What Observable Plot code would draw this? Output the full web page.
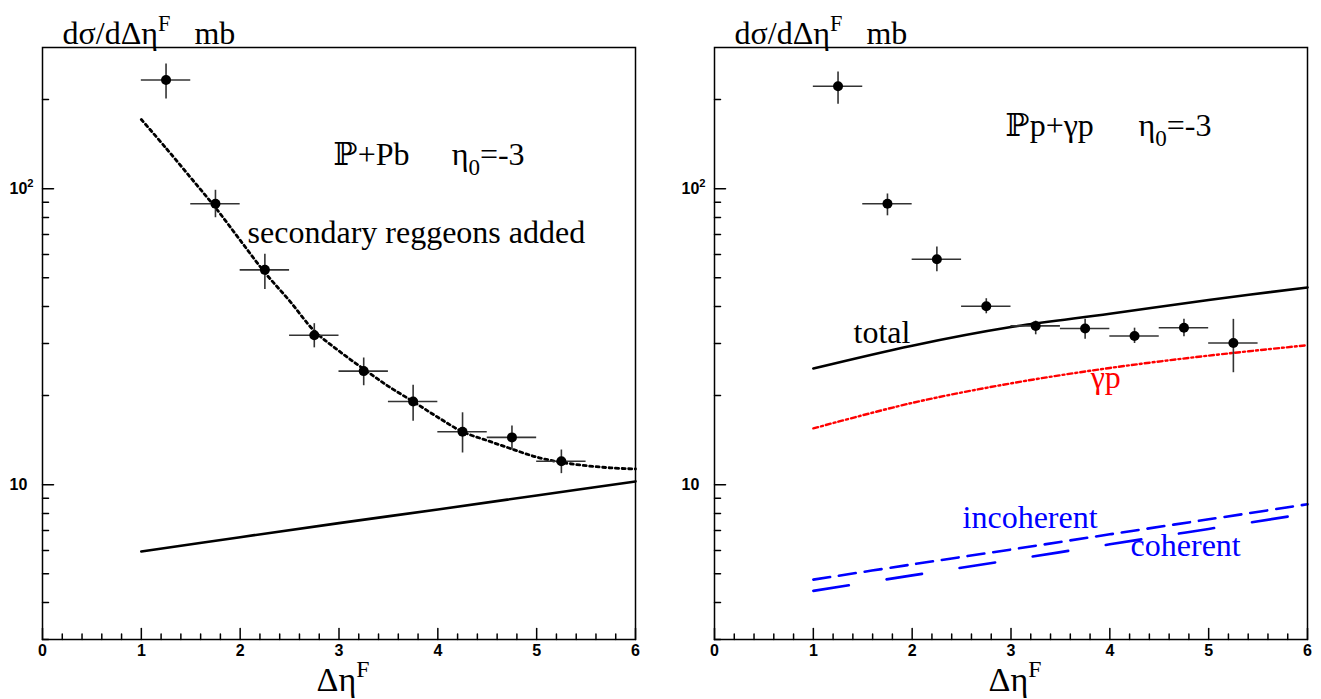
<!DOCTYPE html>
<html><head><meta charset="utf-8">
<script src="https://cdn.jsdelivr.net/npm/d3@7"></script>
<script src="https://cdn.jsdelivr.net/npm/@observablehq/plot@0.6"></script>
<style>
body{margin:0;background:#fff;}
#wrap{display:flex;width:1321px;height:699px;overflow:hidden;}
svg{overflow:visible;}
svg text{white-space:pre;}
</style></head><body><div id="wrap"></div>
<script>
// ---------- data ----------
const binCenters = [1.25, 1.75, 2.25, 2.75, 3.25, 3.75, 4.25, 4.75, 5.25];
const binHalfWidth = 0.25;

// left panel: IP + Pb
const pbValues = [233, 89, 53.2, 32.0, 24.2, 19.1, 15.1, 14.45, 12.0];
const pbErrLow = [201, 79.8, 45.7, 29.0, 21.6, 16.4, 12.8, 13.1, 10.9];
const pbErrHigh = [264, 98.8, 60.1, 35.0, 26.8, 21.7, 17.5, 15.8, 13.1];
const pbFitX = [1, 1.25, 1.5, 1.75, 2, 2.25, 2.5, 2.75, 3, 3.25, 3.5, 3.75, 4, 4.25, 4.5, 4.75, 5, 5.25, 5.5, 5.75, 6];
const pbFitY = [171.4, 137.1, 108.9, 86.3, 67.0, 52.1, 41.8, 33.1, 28.3, 24.6, 21.5, 19.1, 16.9, 15.1, 14.1, 13.2, 12.4, 11.9, 11.6, 11.4, 11.3];
const pbPomX = [1, 2, 3, 4, 5, 6];
const pbPomY = [5.95, 6.65, 7.42, 8.25, 9.2, 10.26];

// right panel: IP p + gamma p
const ppValues = [222, 89, 57.8, 40.1, 34.4, 33.7, 31.8, 33.9, 30.1];
const ppErrLow = [193, 81, 52.4, 37.8, 32.1, 31.0, 30.0, 31.6, 23.9];
const ppErrHigh = [248, 96, 63.6, 42.5, 35.7, 36.2, 33.8, 36.2, 36.2];
const curveX = [1, 2, 3, 4, 5, 6];
const totalY = [24.7, 29.5, 34.1, 37.8, 42.1, 46.4];
const gammaPY = [15.5, 18.9, 22.0, 24.8, 27.3, 29.6];
const incoherentY = [4.78, 5.38, 6.04, 6.80, 7.64, 8.59];
const coherentY = [4.38, 4.94, 5.57, 6.29, 7.09, 7.99];

// axis ticks
const xMajor = [0, 1, 2, 3, 4, 5, 6];
const xMinor = d3.range(1, 30).map(i => i / 5).filter(v => Math.abs(v - Math.round(v)) > 1e-6);
const yMajor = [10, 100];
const yMajorLabels = ["10", "10^2"];
const yMinor = [3, 4, 5, 6, 7, 8, 9, 20, 30, 40, 50, 60, 70, 80, 90, 200];

const yTitle = "dσ/dΔη^F   mb";
const xTitle = "Δη^F";

// ---------- helpers ----------
const SERIF = "'Liberation Serif', 'Times New Roman', 'DejaVu Serif', serif";
const SANS = "'Liberation Sans', Arial, sans-serif";
const FS = 32;
const TICKFS = 16;
const tickShape = {draw(ctx, l) { ctx.moveTo(0, 0); ctx.lineTo(0, -l); }};

function points(vals, lo, hi) {
  return binCenters.map((x, i) => ({x, y: vals[i], lo: lo[i], hi: hi[i]}));
}
function series(xs, ys) { return xs.map((x, i) => ({x, y: ys[i]})); }

function frameMarks() {
  return [
    Plot.vector(xMajor, {x: d => d, frameAnchor: "bottom", length: 11, anchor: "start", shape: tickShape, stroke: "black", strokeWidth: 1.5}),
    Plot.vector(xMinor, {x: d => d, frameAnchor: "bottom", length: 5.5, anchor: "start", shape: tickShape, stroke: "black", strokeWidth: 1.5}),
    Plot.vector(yMajor, {y: d => d, frameAnchor: "left", rotate: 90, length: 11, anchor: "start", shape: tickShape, stroke: "black", strokeWidth: 1.5}),
    Plot.vector(yMinor, {y: d => d, frameAnchor: "left", rotate: 90, length: 6, anchor: "start", shape: tickShape, stroke: "black", strokeWidth: 1.5}),
    Plot.text(xMajor, {x: d => d, text: d => String(d), frameAnchor: "bottom", dy: 5, lineAnchor: "top", fontFamily: SANS, fontSize: "16px", fontWeight: "bold", fill: "black"}),
    Plot.text(yMajor, {y: d => d, text: (d, i) => yMajorLabels[i], frameAnchor: "left", dx: -33, textAnchor: "start", lineAnchor: "middle", fontFamily: SANS, fontSize: "16px", fontWeight: "bold", fill: "black"}),
    Plot.text([yTitle], {text: d => d, frameAnchor: "top-left", dx: 20, dy: -4, textAnchor: "start", lineAnchor: "bottom", fontFamily: SERIF, fontSize: FS, fill: "black"}),
    Plot.text([xTitle], {text: d => d, frameAnchor: "bottom", dx: 4, dy: 51, textAnchor: "middle", lineAnchor: "bottom", fontFamily: SERIF, fontSize: 34, fill: "black"}),
    Plot.frame({stroke: "black", strokeWidth: 1.5})
  ];
}
function dataMarks(pts) {
  return [
    Plot.ruleX(pts, {x: "x", y1: "lo", y2: "hi", stroke: "#333", strokeWidth: 1.6}),
    Plot.ruleY(pts, {y: "y", x1: d => d.x - binHalfWidth, x2: d => d.x + binHalfWidth, stroke: "#333", strokeWidth: 1.6}),
    Plot.dot(pts, {x: "x", y: "y", r: 5, fill: "black"})
  ];
}
function label(t, x, y, fill = "black") {
  return Plot.text([t], {x: () => x, y: () => y, text: d => d, textAnchor: "start", lineAnchor: "bottom", fontFamily: SERIF, fontSize: FS, fill});
}

function fontSizeOf(el) {
  for (let n = el; n && n.getAttribute; n = n.parentNode) {
    const f = n.getAttribute("font-size");
    if (f) return parseFloat(f);
  }
  return 16;
}

// make sure tick labels get their intended font
function fixTickLabels(svg) {
  const tickTexts = new Set([...xMajor.map(String), ...yMajorLabels]);
  svg.querySelectorAll("text").forEach(el => {
    if (tickTexts.has(el.textContent)) {
      el.setAttribute("font-size", TICKFS);
      el.setAttribute("font-family", SANS);
      el.setAttribute("font-weight", "bold");
    }
  });
  return svg;
}

function richify(svg) {
  svg.querySelectorAll("text").forEach(el => {
    const s = el.textContent;
    if (!/[\^_]/.test(s)) return;
    const fs = fontSizeOf(el);
    const parts = [];
    let buf = "";
    for (let i = 0; i < s.length; i++) {
      const c = s[i];
      if ((c === "^" || c === "_") && i + 1 < s.length) {
        if (buf) parts.push({t: buf, k: "n"});
        buf = "";
        parts.push({t: s[i + 1], k: c === "^" ? "sup" : "sub"});
        i++;
      } else buf += c;
    }
    if (buf) parts.push({t: buf, k: "n"});
    el.textContent = "";
    let cur = 0;
    for (const p of parts) {
      const ts = document.createElementNS("http://www.w3.org/2000/svg", "tspan");
      const target = p.k === "sup" ? -0.4 * fs : p.k === "sub" ? 0.31 * fs : 0;
      ts.setAttribute("dy", target - cur);
      cur = target;
      if (p.k !== "n") ts.setAttribute("font-size", (p.k === "sup" ? 0.7 : 0.72) * fs);
      ts.textContent = p.t;
      el.appendChild(ts);
    }
  });
  return svg;
}

const common = {
  height: 699,
  x: {type: "linear", domain: [0, 6], axis: null},
  y: {type: "log", domain: [3, 300], axis: null},
  style: {background: "white", color: "black", overflow: "visible"}
};

// ---------- left panel ----------
const left = Plot.plot({
  ...common,
  width: 660,
  marginLeft: 42, marginRight: 25, marginTop: 47, marginBottom: 60,
  marks: [
    Plot.line(series(pbPomX, pbPomY), {x: "x", y: "y", stroke: "black", strokeWidth: 2.6, curve: "catmull-rom"}),
    Plot.line(series(pbFitX, pbFitY), {x: "x", y: "y", stroke: "black", strokeWidth: 2.8, strokeDasharray: "3,3.5", curve: "catmull-rom"}),
    ...dataMarks(points(pbValues, pbErrLow, pbErrHigh)),
    label("ℙ+Pb", 2.945, 120.2),
    label("η_0=-3", 4.14, 120.2),
    label("secondary reggeons added", 2.075, 65.6),
    ...frameMarks()
  ]
});

// ---------- right panel ----------
const right = Plot.plot({
  ...common,
  width: 661,
  marginLeft: 54, marginRight: 14, marginTop: 47, marginBottom: 60,
  marks: [
    Plot.line(series(curveX, totalY), {x: "x", y: "y", stroke: "black", strokeWidth: 2.6, curve: "catmull-rom"}),
    Plot.line(series(curveX, gammaPY), {x: "x", y: "y", stroke: "#ff0000", strokeWidth: 2.4, strokeDasharray: "5,3,2,3", curve: "catmull-rom"}),
    Plot.line(series(curveX, incoherentY), {x: "x", y: "y", stroke: "#0000ff", strokeWidth: 2.6, strokeDasharray: "17,9", curve: "catmull-rom"}),
    Plot.line(series(curveX, coherentY), {x: "x", y: "y", stroke: "#0000ff", strokeWidth: 2.6, strokeDasharray: "36,38", curve: "catmull-rom"}),
    ...dataMarks(points(ppValues, ppErrLow, ppErrHigh)),
    label("ℙp+γp", 2.945, 150.6),
    label("η_0=-3", 4.29, 150.6),
    label("total", 1.407, 30.1),
    label("γp", 3.806, 21.25, "#ff0000"),
    label("incoherent", 2.51, 7.16, "#0000ff"),
    label("coherent", 4.21, 5.76, "#0000ff"),
    ...frameMarks()
  ]
});

const wrap = document.getElementById("wrap");
wrap.appendChild(richify(fixTickLabels(left)));
wrap.appendChild(richify(fixTickLabels(right)));
</script>
</body></html>
